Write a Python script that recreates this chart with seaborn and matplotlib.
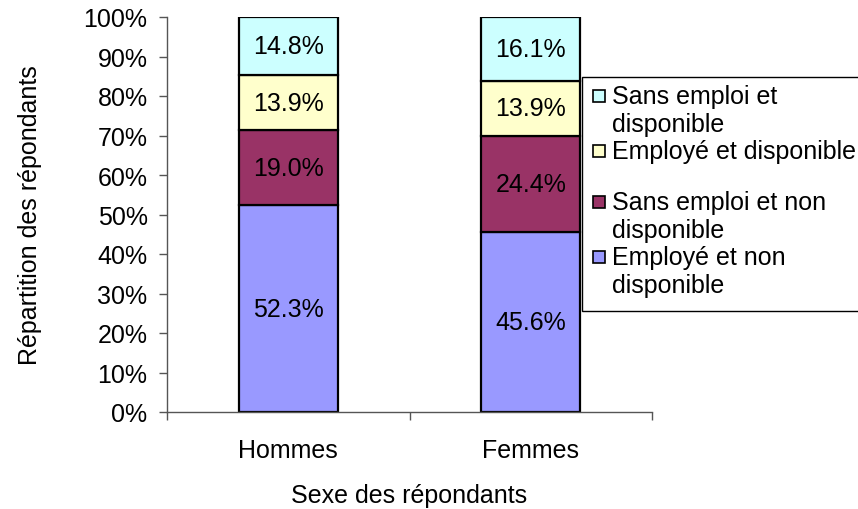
import numpy as np
import pandas as pd
import matplotlib
matplotlib.use("Agg")
import matplotlib.pyplot as plt
import seaborn as sns
from matplotlib.patches import Rectangle
from matplotlib.ticker import FixedLocator

# data
sexes = ["Hommes", "Femmes"]
categories = ["Employé et non disponible", "Sans emploi et non disponible",
              "Employé et disponible", "Sans emploi et disponible"]
hommes = [52.3, 19.0, 13.9, 14.8]
femmes = [45.6, 24.4, 13.9, 16.1]
colors = ["#9999FF", "#993366", "#FFFFCC", "#CCFFFF"]

# legend lines as laid out in the original (top to bottom)
legend_lines = [["Sans emploi et", "disponible"],
                ["Employé et disponible"],
                ["Sans emploi et non", "disponible"],
                ["Employé et non", "disponible"]]

df = pd.DataFrame({"sexe": np.repeat(sexes, len(categories)),
                   "cat": categories * 2,
                   "val": hommes + femmes})

sns.set_style("white")
plt.rcParams['font.family'] = ['Liberation Sans', 'DejaVu Sans']
plt.rcParams['text.color'] = 'black'
plt.rcParams['axes.labelcolor'] = 'black'
plt.rcParams['xtick.color'] = 'black'
plt.rcParams['ytick.color'] = 'black'
FS = 18

W, H = 858, 510
fig = plt.figure(figsize=(W / 100, H / 100), dpi=100)
ax = fig.add_axes([167 / W, 1 - 413 / H, (652 - 167) / W, (413 - 18) / H])

bottoms = np.zeros(len(sexes))
for cat, col in zip(categories, colors):
    sub = df[df["cat"] == cat]
    sns.barplot(data=sub, x="sexe", y="val", order=sexes, color=col,
                width=0.41, bottom=bottoms, edgecolor="black", linewidth=1.6,
                saturation=1, ax=ax, errorbar=None)
    for i, (v, b) in enumerate(zip(sub["val"].values, bottoms)):
        ax.text(i, b + v / 2, f"{v:.1f}%", ha="center", va="center", fontsize=FS)
    bottoms = bottoms + sub["val"].values

ax.set_xlim(-0.5, 1.5)
ax.set_ylim(0, 100)
ax.set_yticks(np.arange(0, 101, 10))
ax.set_yticklabels([f"{t}%" for t in range(0, 101, 10)], fontsize=FS)
ax.xaxis.set_minor_locator(FixedLocator([-0.5, 0.5, 1.5]))
ax.tick_params(axis="x", which="major", bottom=True, length=0, pad=19, labelsize=FS)
ax.tick_params(axis="x", which="minor", bottom=True, length=6, width=1,
               direction="out", color="#555555")
ax.tick_params(axis="y", left=True, length=6, width=1, direction="out",
               color="#555555", pad=8)
for s in ["top", "right"]:
    ax.spines[s].set_visible(False)
for s in ["left", "bottom"]:
    ax.spines[s].set_color("#555555")
    ax.spines[s].set_linewidth(1.0)

ax.set_xlabel("Sexe des répondants", fontsize=FS, labelpad=15)
ax.set_ylabel("Répartition des répondants", fontsize=FS, labelpad=30)

# legend box (drawn by hand to keep the original's line layout)
fig.add_artist(Rectangle((582 / W, 1 - 312 / H), 400 / W, (312 - 78) / H,
                         transform=fig.transFigure, facecolor="white",
                         edgecolor="black", linewidth=1.0))
handle_y = [97, 152, 203, 258]
for lines, c, hy in zip(legend_lines, colors[::-1], handle_y):
    fig.add_artist(Rectangle((593 / W, 1 - (hy + 6) / H), 12 / W, 12 / H,
                             transform=fig.transFigure, facecolor=c,
                             edgecolor="black", linewidth=1.2))
    for k, line in enumerate(lines):
        fig.text(612 / W, 1 - (hy + 28 * k) / H, line, fontsize=FS,
                 ha="left", va="center")

fig.savefig("out.png", dpi=100)
